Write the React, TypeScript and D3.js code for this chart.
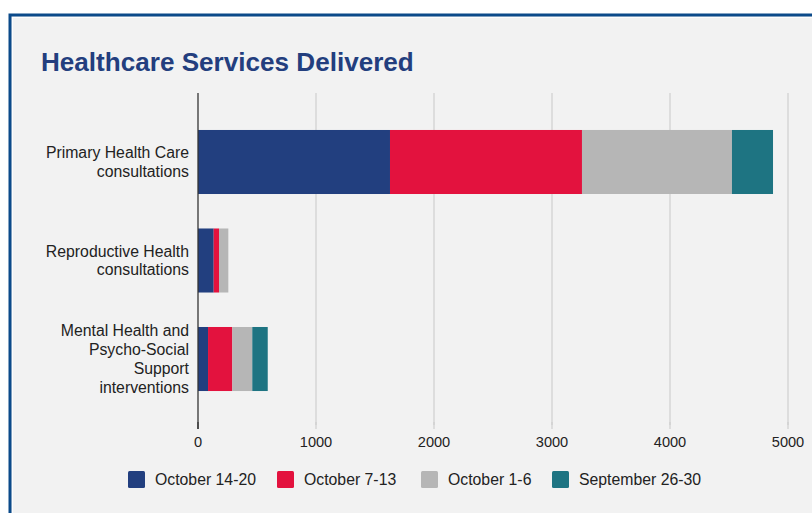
import React from "react";
import * as d3 from "d3";

const categories = [
  ["Primary Health Care", "consultations"],
  ["Reproductive Health", "consultations"],
  ["Mental Health and", "Psycho-Social", "Support", "interventions"],
];
const seriesNames = ["October 14-20", "October 7-13", "October 1-6", "September 26-30"];
const seriesColors = ["#223f7f", "#e3123e", "#b6b6b6", "#1e7482"];
const octo14_20 = [1627, 133, 85];
const octo7_13 = [1627, 45, 206];
const octo1_6 = [1271, 79, 169];
const sept26_30 = [348, 0, 131];
const xTicks = [0, 1000, 2000, 3000, 4000, 5000];

const W = 812;
const H = 513;
const FONT = "'Liberation Sans', Arial, Helvetica, sans-serif";

export default function App() {
  const series = [octo14_20, octo7_13, octo1_6, sept26_30];
  const rows = categories.map((c, i) => {
    const o: any = { idx: i };
    seriesNames.forEach((s, k) => (o[s] = series[k][i]));
    return o;
  });
  const stacked = d3.stack<any>().keys(seriesNames)(rows);

  const x = d3.scaleLinear().domain([0, 5000]).range([198, 788]);
  const y = d3
    .scaleBand<number>()
    .domain(categories.map((_, i) => i))
    .range([95.5, 425.5])
    .paddingInner(0.35)
    .paddingOuter(0.35);

  const plotTop = 93;
  const plotBottom = 425;

  const legendX = [128, 277, 421, 552];

  return (
    <div style={{ position: "fixed", left: 0, top: 0, width: W, height: H, background: "#fff" }}>
      <svg width={W} height={H} style={{ display: "block" }}>
        <rect x={10} y={15} width={W + 20} height={H + 20} fill="#f2f2f2" stroke="#0b4a8a" strokeWidth={3} />
        <rect x={12.5} y={17.5} width={W + 20} height={H + 20} fill="none" stroke="#ffffff" strokeWidth={1} opacity={0.8} />
        <text x={41} y={70.5} fontFamily={FONT} fontWeight="bold" fontSize={26.1} fill="#233e7e">
          Healthcare Services Delivered
        </text>
        {xTicks.map((t) => (
          <g key={t}>
            {t !== 0 && (
              <line x1={x(t)} x2={x(t)} y1={plotTop} y2={plotBottom} stroke="#cfcfcf" strokeWidth={1.2} />
            )}
            <line x1={x(t)} x2={x(t)} y1={plotBottom - 3} y2={plotBottom + 4} stroke={t === 0 ? "#333" : "#cfcfcf"} strokeWidth={1.2} />
            <text x={x(t)} y={446.5} textAnchor="middle" fontFamily={FONT} fontSize={14.6} fill="#222">
              {t}
            </text>
          </g>
        ))}
        {stacked.map((layer, k) => (
          <g key={k} fill={seriesColors[k]}>
            {layer.map((d, i) => {
              const w = x(d[1]) - x(d[0]);
              if (w <= 0) return null;
              return <rect key={i} x={x(d[0])} y={y(i)} width={w} height={y.bandwidth()} />;
            })}
          </g>
        ))}
        <line x1={x(0)} x2={x(0)} y1={plotTop} y2={plotBottom + 4} stroke="#333" strokeWidth={1.3} />
        {categories.map((lines, i) => {
          const cy = (y(i) as number) + y.bandwidth() / 2;
          const lh = 18.7;
          const start = cy - ((lines.length - 1) * lh) / 2;
          return (
            <text key={i} textAnchor="end" fontFamily={FONT} fontSize={15.8} fill="#222">
              {lines.map((l, j) => (
                <tspan key={j} x={189} y={start + j * lh + 5.5}>
                  {l}
                </tspan>
              ))}
            </text>
          );
        })}
        {seriesNames.map((s, k) => (
          <g key={s}>
            <rect x={legendX[k]} y={471} width={17} height={17} rx={1.5} fill={seriesColors[k]} />
            <text x={legendX[k] + 27} y={485} fontFamily={FONT} fontSize={15.8} fill="#222">
              {s}
            </text>
          </g>
        ))}
      </svg>
    </div>
  );
}
